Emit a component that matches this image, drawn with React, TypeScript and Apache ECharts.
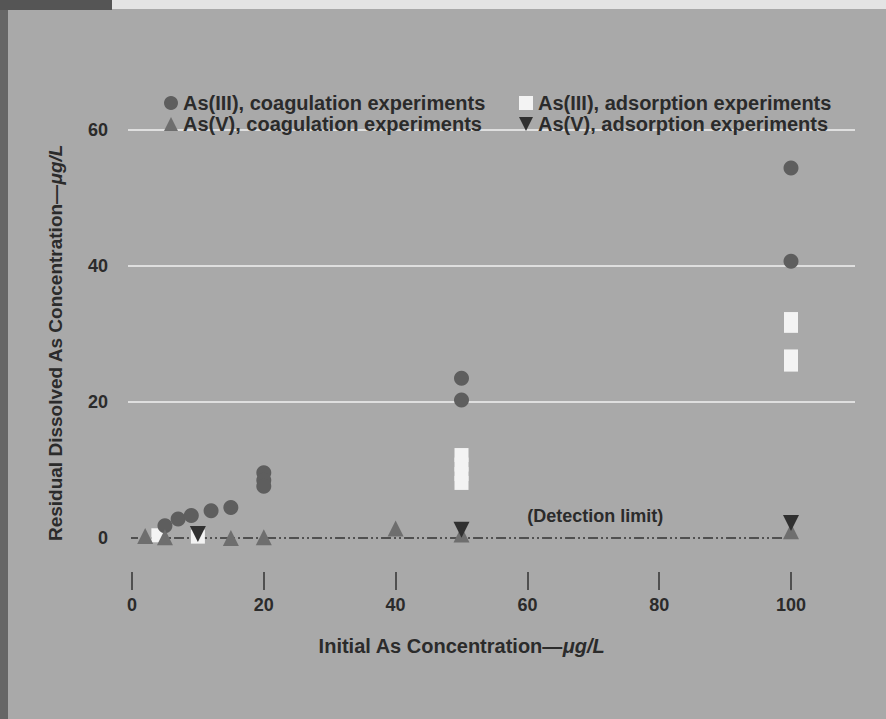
import React, { useEffect, useRef } from "react";
import * as echarts from "echarts";

const xTicks = [0, 20, 40, 60, 80, 100];
const yTicks = [0, 20, 40, 60];

const seriesNames = [
  "As(III), coagulation experiments",
  "As(III), adsorption experiments",
  "As(V), coagulation experiments",
  "As(V), adsorption experiments",
];

const asIIICoag: number[][] = [
  [5, 1.8], [7, 2.8], [9, 3.3], [12, 4.0], [15, 4.5],
  [20, 9.6], [20, 8.5], [20, 7.6],
  [50, 23.5], [50, 20.3],
  [100, 54.4], [100, 40.7],
];
const asIIIAds: number[][] = [
  [4, 0.4], [10, 0.2],
  [50, 12.2], [50, 10.8], [50, 9.4], [50, 8.1],
  [100, 32.2], [100, 31.2], [100, 26.7], [100, 25.5],
];
const asVCoag: number[][] = [
  [2, 0.3], [5, 0.1], [15, 0], [20, 0.1], [40, 1.4], [50, 0.5], [100, 1.0],
];
const asVAds: number[][] = [
  [10, 0.6], [50, 1.2], [100, 2.2],
];
const detectionLimit: number[][] = [[-0.6, 0], [100, 0]];
const detectionLabel = { text: "(Detection limit)", coord: [70.3, 3.3] };

const FONT = "'Liberation Sans', Arial, sans-serif";
const TXT = "#2b2b2b";
const downTri = "path://M0,0 L10,0 L5,10 Z";

export default function App() {
  const ref = useRef<HTMLDivElement>(null);
  useEffect(() => {
    if (!ref.current) return;
    const chart = echarts.init(ref.current, null, { renderer: "svg" });
    const legendBase = {
      padding: 0,
      itemWidth: 14,
      itemHeight: 14,
      itemGap: 0,
      selectedMode: false,
      textStyle: { fontFamily: FONT, fontWeight: "bold", fontSize: 20, color: TXT, padding: [0, 0, 0, 0] },
    };
    const nameRich = (size: number) => ({
      a: { fontFamily: FONT, fontWeight: "bold", fontSize: size, color: TXT },
      b: { fontFamily: FONT, fontWeight: "bold", fontStyle: "italic", fontSize: size, color: TXT },
    });
    chart.setOption({
      animation: false,
      backgroundColor: "#a9a9a9",
      textStyle: { fontFamily: FONT },
      graphic: [
        { type: "rect", shape: { x: 0, y: 0, width: 8, height: 719 }, style: { fill: "#666" } },
        { type: "rect", shape: { x: 0, y: 0, width: 112, height: 10 }, style: { fill: "#555" } },
        { type: "rect", shape: { x: 112, y: 0, width: 774, height: 9 }, style: { fill: "#e4e4e4" } },
      ],
      legend: [
        { ...legendBase, left: 164, top: 93, data: [{ name: seriesNames[0], icon: "circle" }] },
        { ...legendBase, left: 519, top: 93, data: [{ name: seriesNames[1], icon: "rect" }] },
        { ...legendBase, left: 164, top: 114, data: [{ name: seriesNames[2], icon: "triangle" }] },
        { ...legendBase, left: 519, top: 114, data: [{ name: seriesNames[3], icon: downTri }] },
      ],
      grid: [
        { left: 128, right: 31, top: 130, bottom: 181 },
        { left: 132, right: 95, top: 130, bottom: 181 },
        { left: 132, right: 95, top: 572, bottom: 129 },
      ],
      xAxis: [
        { gridIndex: 0, type: "value", min: 0, max: 1, show: false },
        { gridIndex: 1, type: "value", min: xTicks[0], max: xTicks[xTicks.length - 1], show: false },
        {
          gridIndex: 2,
          type: "value",
          position: "bottom",
          min: xTicks[0],
          max: xTicks[xTicks.length - 1],
          interval: 20,
          axisLine: { show: false },
          axisTick: { show: true, inside: true, length: 18, lineStyle: { color: "#333", width: 1.5 } },
          splitLine: { show: false },
          axisLabel: { margin: 6, color: TXT, fontSize: 18, fontWeight: "bold", fontFamily: FONT },
          name: "{a|Initial As Concentration—}{b|μg/L}",
          nameLocation: "middle",
          nameGap: 46,
          nameTextStyle: { rich: nameRich(20) },
        },
      ],
      yAxis: [
        {
          gridIndex: 0,
          type: "value",
          min: yTicks[0],
          max: yTicks[yTicks.length - 1],
          interval: 20,
          axisLine: { show: false },
          axisTick: { show: false },
          axisLabel: { margin: 20, color: TXT, fontSize: 18, fontWeight: "bold", fontFamily: FONT },
          splitLine: { show: true, showMinLine: false, lineStyle: { color: "#f2f2f2", width: 1.5 } },
          name: "{a|Residual Dissolved As Concentration—}{b|μg/L}",
          nameLocation: "middle",
          nameGap: 63,
          nameTextStyle: { rich: nameRich(19), padding: [0, 18, 0, 0] },
        },
        { gridIndex: 1, type: "value", min: 0, max: 60, show: false },
        { gridIndex: 2, type: "value", min: 0, max: 1, show: false },
      ],
      series: [
        {
          type: "line",
          name: "detection",
          xAxisIndex: 1,
          yAxisIndex: 1,
          data: detectionLimit,
          clip: false,
          symbol: "none",
          lineStyle: { color: "#333", width: 1.5, type: [10, 3, 2, 3, 2, 3] },
          markPoint: {
            symbol: "circle",
            symbolSize: 0,
            data: [{ coord: detectionLabel.coord, value: detectionLabel.text }],
            label: {
              show: true,
              formatter: detectionLabel.text,
              color: TXT,
              fontFamily: FONT,
              fontWeight: "bold",
              fontSize: 18,
            },
          },
          z: 1,
        },
        {
          type: "scatter",
          name: seriesNames[1],
          xAxisIndex: 1,
          yAxisIndex: 1,
          data: asIIIAds,
          symbol: "rect",
          symbolSize: [14, 14],
          itemStyle: { color: "#f3f3f3", opacity: 1 },
          z: 2,
        },
        {
          type: "scatter",
          name: seriesNames[0],
          xAxisIndex: 1,
          yAxisIndex: 1,
          data: asIIICoag,
          symbol: "circle",
          symbolSize: 15,
          itemStyle: { color: "#5e5e5e", opacity: 1 },
          z: 3,
        },
        {
          type: "scatter",
          name: seriesNames[2],
          xAxisIndex: 1,
          yAxisIndex: 1,
          data: asVCoag,
          symbol: "triangle",
          symbolSize: 16,
          itemStyle: { color: "#6e6e6e", opacity: 1 },
          z: 4,
        },
        {
          type: "scatter",
          name: seriesNames[3],
          xAxisIndex: 1,
          yAxisIndex: 1,
          data: asVAds,
          symbol: downTri,
          symbolSize: 16,
          itemStyle: { color: "#303030", opacity: 1 },
          z: 5,
        },
      ],
    });
    return () => chart.dispose();
  }, []);
  return (
    <div
      ref={ref}
      style={{ position: "absolute", left: 0, top: 0, width: 886, height: 719 }}
    />
  );
}
